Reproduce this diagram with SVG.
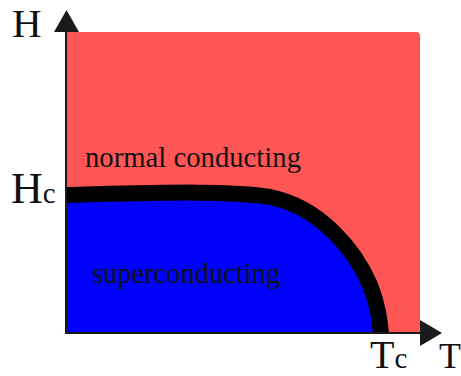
<svg xmlns="http://www.w3.org/2000/svg" width="461" height="376" viewBox="0 0 461 376">
<style>
.lbl{font-family:"Liberation Serif","Times New Roman",serif;fill:#111}
.axis{stroke:#1a1a1a;stroke-width:2;fill:none}
.head{fill:#1a1a1a}
</style>
<defs>
<clipPath id="plot"><rect x="66" y="0" width="360" height="333"/></clipPath>
</defs>
<rect width="461" height="376" fill="#ffffff"/>
<g id="normal-region">
<path d="M66,32 H416 Q420,32 420,36 V333 H66 Z" fill="#ff5555"/>
<text class="lbl" x="85" y="167" font-size="29" textLength="216" lengthAdjust="spacingAndGlyphs">normal conducting</text>
</g>
<g id="super-region" clip-path="url(#plot)">
<path d="M66,195 C150,193 230,190 270,197 C320,207 355,250 370,285 C378,305 380,320 382,345 L66,345 Z" fill="#0000ff"/>
<text class="lbl" x="92" y="283" font-size="29" textLength="188" lengthAdjust="spacingAndGlyphs">superconducting</text>
</g>
<g id="connectors">
<g id="phase-boundary" clip-path="url(#plot)">
<path d="M60,195 L66,195 C150,193 230,190 270,197 C320,207 355,250 370,285 C378,305 380,320 382,345" fill="none" stroke="#000" stroke-width="16"/>
</g>
<g id="h-axis">
<line class="axis" x1="66" y1="30" x2="66" y2="334"/>
<polygon class="head" points="54,32 79,32 66.5,10"/>
</g>
<g id="t-axis">
<line class="axis" x1="65" y1="333" x2="422" y2="333"/>
<polygon class="head" points="420,320 420,346 442,333"/>
</g>
</g>
<g id="labels">
<text class="lbl" x="12" y="37" font-size="41">H</text>
<text class="lbl" x="11" y="203" font-size="44">H<tspan font-size="29">c</tspan></text>
<text class="lbl" x="370" y="368" font-size="40">T<tspan font-size="29">c</tspan></text>
<text class="lbl" x="439" y="368" font-size="36">T</text>
</g>
</svg>
